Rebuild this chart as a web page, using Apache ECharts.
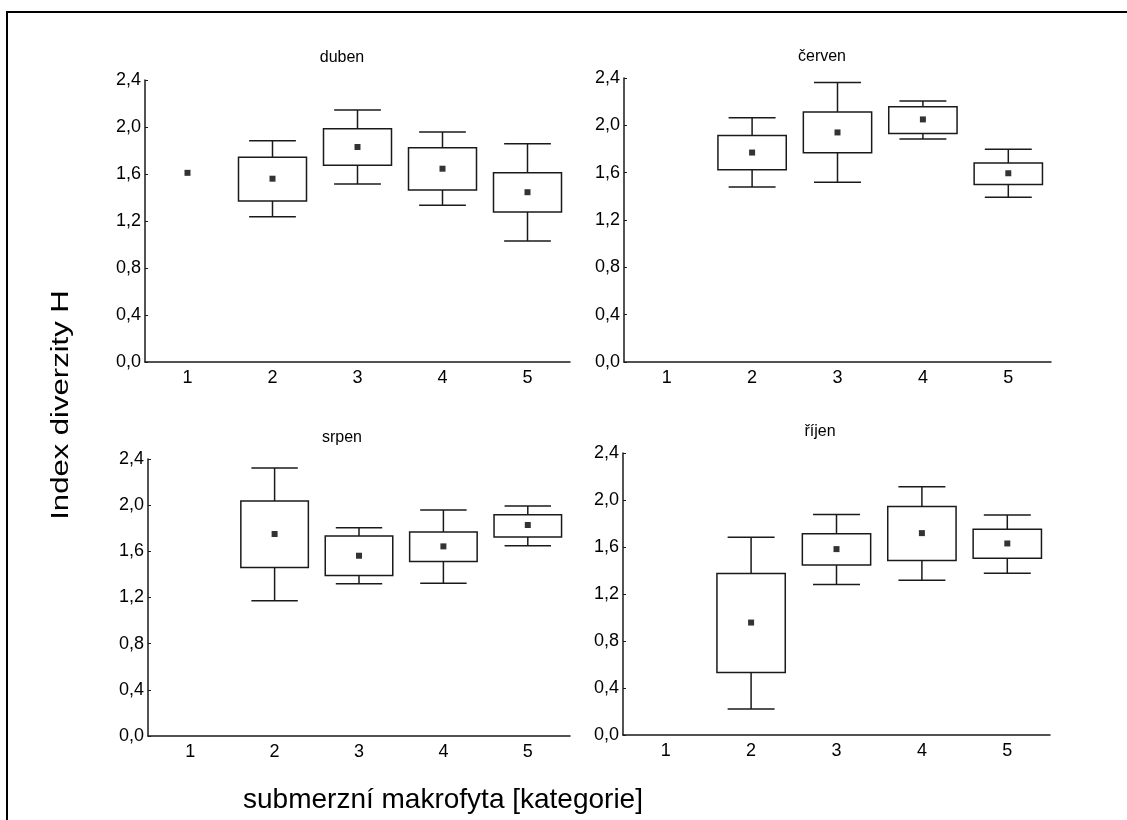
<!DOCTYPE html>
<html>
<head>
<meta charset="utf-8">
<script src="https://cdn.jsdelivr.net/npm/echarts@6/dist/echarts.min.js"></script>
<style>
  html, body { margin: 0; padding: 0; background: #fff; }
  #chart { width: 1127px; height: 820px; }
</style>
</head>
<body>
<div id="chart"></div>
<script>
// Shannon diversity index H by submerged macrophyte category, four sampling months.
const categories = ['1', '2', '3', '4', '5'];
const months = ['duben', 'červen', 'srpen', 'říjen'];
const yTicks = [0, 0.4, 0.8, 1.2, 1.6, 2.0, 2.4];

// mean per category (null = no sample)
const meanDuben  = [1.61, 1.56, 1.83, 1.645, 1.445];
const meanCerven = [null, 1.77, 1.94, 2.05, 1.595];
const meanSrpen  = [null, 1.75, 1.562, 1.643, 1.828];
const meanRijen  = [null, 0.957, 1.582, 1.718, 1.63];

// box: lower / upper edge
const boxLowDuben   = [null, 1.37, 1.674, 1.464, 1.277];
const boxHighDuben  = [null, 1.742, 1.986, 1.824, 1.611];
const boxLowCerven  = [null, 1.625, 1.769, 1.932, 1.501];
const boxHighCerven = [null, 1.915, 2.113, 2.158, 1.682];
const boxLowSrpen   = [null, 1.46, 1.391, 1.512, 1.724];
const boxHighSrpen  = [null, 2.036, 1.732, 1.767, 1.917];
const boxLowRijen   = [null, 0.531, 1.446, 1.485, 1.505];
const boxHighRijen  = [null, 1.375, 1.713, 1.945, 1.752];

// whiskers: lower / upper end
const whiskLowDuben   = [null, 1.237, 1.515, 1.333, 1.03];
const whiskHighDuben  = [null, 1.883, 2.145, 1.957, 1.858];
const whiskLowCerven  = [null, 1.479, 1.518, 1.885, 1.392];
const whiskHighCerven = [null, 2.065, 2.361, 2.206, 1.797];
const whiskLowSrpen   = [null, 1.171, 1.319, 1.324, 1.648];
const whiskHighSrpen  = [null, 2.322, 1.805, 1.958, 1.992];
const whiskLowRijen   = [null, 0.222, 1.281, 1.318, 1.377];
const whiskHighRijen  = [null, 1.684, 1.877, 2.113, 1.872];

const panels = [
  { name: months[0], mean: meanDuben,  bl: boxLowDuben,  bh: boxHighDuben,  wl: whiskLowDuben,  wh: whiskHighDuben,
    grid: { left: 145, top: 80, width: 425, height: 282 }, title: [342, 58] },
  { name: months[1], mean: meanCerven, bl: boxLowCerven, bh: boxHighCerven, wl: whiskLowCerven, wh: whiskHighCerven,
    grid: { left: 624, top: 78, width: 427, height: 284 }, title: [822, 57] },
  { name: months[2], mean: meanSrpen,  bl: boxLowSrpen,  bh: boxHighSrpen,  wl: whiskLowSrpen,  wh: whiskHighSrpen,
    grid: { left: 148, top: 459, width: 422, height: 277 }, title: [342, 438] },
  { name: months[3], mean: meanRijen,  bl: boxLowRijen,  bh: boxHighRijen,  wl: whiskLowRijen,  wh: whiskHighRijen,
    grid: { left: 623, top: 453, width: 427, height: 282 }, title: [820, 432] }
];

const FONT = 'Arial, "Liberation Sans", sans-serif';
const INK = '#1a1a1a';

function renderBox(params, api) {
  const x = api.value(0);
  const wl = api.value(1), bl = api.value(2), bh = api.value(3), wh = api.value(4);
  if (isNaN(wl) || isNaN(bh)) return null;
  const band = api.size([1, 0])[0];
  const boxW = band * 0.8;
  const capW = band * 0.55;
  const pWL = api.coord([x, wl]);
  const pBL = api.coord([x, bl]);
  const pBH = api.coord([x, bh]);
  const pWH = api.coord([x, wh]);
  const cx = pBL[0];
  const lineStyle = { stroke: INK, lineWidth: 1.5, fill: null };
  return {
    type: 'group',
    children: [
      { type: 'line', shape: { x1: cx, y1: pWH[1], x2: cx, y2: pBH[1] }, style: lineStyle },
      { type: 'line', shape: { x1: cx, y1: pBL[1], x2: cx, y2: pWL[1] }, style: lineStyle },
      { type: 'line', shape: { x1: cx - capW / 2, y1: pWH[1], x2: cx + capW / 2, y2: pWH[1] }, style: lineStyle },
      { type: 'line', shape: { x1: cx - capW / 2, y1: pWL[1], x2: cx + capW / 2, y2: pWL[1] }, style: lineStyle },
      { type: 'rect', shape: { x: cx - boxW / 2, y: pBH[1], width: boxW, height: pBL[1] - pBH[1] },
        style: { stroke: INK, lineWidth: 1.5, fill: '#fff' } }
    ]
  };
}

const grids = [], xAxes = [], yAxes = [], series = [], graphics = [];

panels.forEach((p, i) => {
  grids.push(Object.assign({ containLabel: false }, p.grid));
  xAxes.push({
    type: 'category', gridIndex: i, data: categories, boundaryGap: true,
    axisLine: { lineStyle: { color: INK, width: 1.5 } },
    axisTick: { show: false },
    axisLabel: { color: '#000', fontFamily: FONT, fontSize: 18, margin: 7 },
    splitLine: { show: false }
  });
  yAxes.push({
    type: 'value', gridIndex: i, min: 0, max: 2.4, interval: 0.4,
    axisLine: { show: true, lineStyle: { color: INK, width: 1.5 } },
    axisTick: { show: true, inside: true, length: 3, lineStyle: { color: INK } },
    axisLabel: { color: '#000', fontFamily: FONT, fontSize: 18, margin: 4,
      formatter: v => v.toFixed(1).replace('.', ',') },
    splitLine: { show: false }
  });
  const boxData = categories.map((c, k) => [k, p.wl[k], p.bl[k], p.bh[k], p.wh[k]]);
  series.push({
    type: 'custom', xAxisIndex: i, yAxisIndex: i,
    renderItem: renderBox,
    data: boxData.filter(d => d[1] !== null),
    encode: { x: 0, y: [1, 2, 3, 4] },
    silent: true, z: 2
  });
  series.push({
    type: 'scatter', xAxisIndex: i, yAxisIndex: i,
    data: categories.map((c, k) => [k, p.mean[k]]).filter(d => d[1] !== null),
    symbol: 'rect', symbolSize: 6,
    itemStyle: { color: '#000' },
    silent: true, z: 3
  });
  graphics.push({
    type: 'text', x: p.title[0], y: p.title[1],
    style: { text: p.name, fill: '#000', font: '16px ' + FONT, align: 'center', verticalAlign: 'middle' }
  });
});

// outer frame
graphics.push({
  type: 'rect', shape: { x: 7, y: 12, width: 1200, height: 900 },
  style: { fill: null, stroke: '#000', lineWidth: 2 }, z: 10
});
// axis titles
graphics.push({
  type: 'text', x: 62, y: 405, rotation: Math.PI / 2, scaleX: 1.35, scaleY: 1,
  style: { text: 'Index diverzity H', fill: '#000', font: '23px ' + FONT, align: 'center', verticalAlign: 'middle' }
});
graphics.push({
  type: 'text', x: 443, y: 800,
  style: { text: 'submerzní makrofyta [kategorie]', fill: '#000', font: '28px ' + FONT, align: 'center', verticalAlign: 'middle' }
});

const chart = echarts.init(document.getElementById('chart'), null, { renderer: 'canvas' });
chart.setOption({
  backgroundColor: '#fff',
  animation: false,
  grid: grids,
  xAxis: xAxes,
  yAxis: yAxes,
  series: series,
  graphic: graphics
});
</script>
</body>
</html>
